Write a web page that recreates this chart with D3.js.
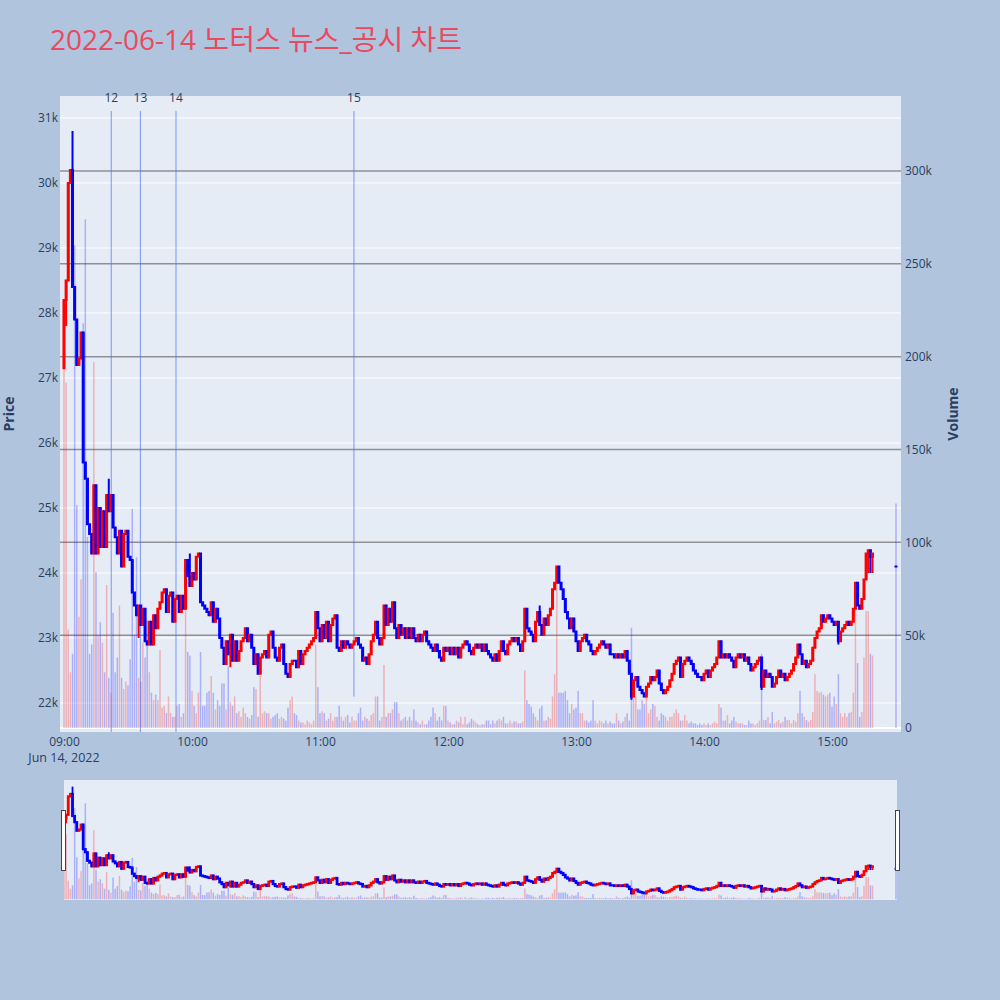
<!DOCTYPE html>
<html>
<head>
<meta charset="utf-8">
<script src="https://cdn.jsdelivr.net/npm/d3@7"></script>
<style>
  body { margin: 0; background: #b0c4de; }
  svg { display: block; font-family: "Open Sans", "Noto Sans CJK KR", sans-serif; }
</style>
</head>
<body>
<svg width="1000" height="1000"></svg>
<script>
const day = "2022-06-14";
const chartTitle = "2022-06-14 노터스 뉴스_공시 차트";

// 1-minute closes from 09:00 to 15:19, ten per row
const closes = [
  28200, 28500, 30000, 30200, 28400, 27900, 27200, 27300, 27700, 25700,
  25450, 24750, 24600, 24300, 25350, 24300, 25000, 24400, 24950, 24400,
  25200, 24950, 25200, 24700, 24550, 24300, 24650, 24100, 24600, 24650,
  24250, 24200, 23700, 23500, 23350, 23500, 23200, 23450, 22950, 22900,
  23250, 22900, 23350, 23150, 23450, 23550, 23700, 23750, 23400, 23650,
  23700, 23250, 23600, 23650, 23400, 23650, 23450, 24200, 23950, 23800,
  24000, 23900, 24250, 24300, 23550, 23500, 23450, 23400, 23350, 23550,
  23250, 23450, 23300, 23000, 22850, 22600, 22950, 22750, 23050, 22650,
  22950, 22650, 22800, 22950, 23000, 23150, 22950, 23050, 22850, 22600,
  22750, 22450, 22700, 22750, 22800, 22700, 23050, 23100, 22850, 22700,
  22650, 22850, 22900, 22600, 22450, 22400, 22600, 22650, 22650, 22550,
  22800, 22600, 22750, 22800, 22850, 22900, 22950, 23000, 23400, 23150,
  22950, 23200, 23000, 23250, 22950, 23200, 23300, 23350, 22850, 22800,
  22950, 22850, 22950, 22900, 22850, 22900, 22950, 23000, 22900, 22850,
  22650, 22700, 22600, 22750, 22950, 23050, 23250, 23000, 22900, 23000,
  23500, 23200, 23450, 23250, 23550, 23150, 23000, 23200, 23050, 23150,
  23000, 23150, 23000, 23150, 23000, 22950, 23050, 22950, 23050, 23100,
  22950, 22900, 22850, 22800, 22900, 22800, 22700, 22650, 22850, 22800,
  22850, 22750, 22850, 22750, 22850, 22700, 22850, 22900, 22950, 22900,
  22800, 22750, 22850, 22900, 22850, 22900, 22800, 22900, 22800, 22750,
  22700, 22650, 22750, 22650, 22800, 22950, 22800, 22750, 22900, 22950,
  23000, 22950, 23000, 22900, 22800, 22950, 23450, 23150, 23100, 23050,
  22950, 23250, 23400, 23200, 23050, 23300, 23200, 23350, 23450, 23750,
  23850, 24100, 23850, 23750, 23600, 23400, 23300, 23150, 23300, 23100,
  22950, 22800, 22950, 23000, 23050, 22950, 22900, 22800, 22750, 22800,
  22850, 22900, 22950, 22900, 22850, 22900, 22750, 22750, 22700, 22750,
  22700, 22750, 22700, 22800, 22650, 22450, 22100, 22350, 22400, 22250,
  22200, 22150, 22100, 22250, 22300, 22400, 22350, 22400, 22500, 22300,
  22200, 22150, 22200, 22250, 22350, 22450, 22600, 22650, 22700, 22400,
  22600, 22650, 22700, 22650, 22600, 22500, 22450, 22400, 22400, 22350,
  22450, 22500, 22400, 22500, 22550, 22600, 22700, 22950, 22700, 22750,
  22700, 22750, 22700, 22650, 22550, 22700, 22750, 22700, 22750, 22650,
  22700, 22600, 22500, 22550, 22600, 22650, 22700, 22250, 22500, 22400,
  22450, 22400, 22250, 22300, 22400, 22500, 22400, 22450, 22350, 22400,
  22450, 22500, 22600, 22700, 22900, 22750, 22600, 22650, 22550, 22600,
  22650, 22850, 23000, 23100, 23150, 23350, 23250, 23300, 23350, 23300,
  23250, 23200, 23250, 22950, 23100, 23150, 23200, 23250, 23200, 23250,
  23450, 23850, 23500, 23450, 23600, 23900, 24300, 24350, 24250, 24300
];

// volume per minute, thousands of shares
const volumesK = [
  194, 186, 53, 30, 40, 260, 120, 60, 80, 218,
  274, 103, 40, 45, 197, 84, 50, 57, 46, 30,
  77, 27, 19, 62, 30, 38, 66, 27, 21, 25,
  23, 37, 118, 50, 92, 27, 25, 46, 38, 58,
  30, 19, 15, 18, 15, 42, 11, 12, 8, 17,
  8, 6, 6, 12, 13, 6, 8, 68, 41, 39,
  20, 12, 8, 19, 41, 12, 12, 19, 20, 28,
  19, 10, 15, 12, 24, 24, 10, 33, 14, 12,
  17, 8, 9, 6, 11, 8, 6, 5, 7, 22,
  21, 6, 28, 8, 9, 8, 8, 5, 6, 7,
  8, 5, 6, 5, 4, 11, 15, 17, 8, 7,
  4, 3, 3, 2, 4, 3, 2, 4, 45, 22,
  8, 9, 8, 4, 5, 8, 4, 6, 6, 12,
  6, 4, 6, 7, 3, 6, 4, 4, 8, 11,
  4, 6, 5, 4, 7, 8, 17, 17, 4, 6,
  34, 6, 8, 8, 10, 14, 14, 8, 4, 5,
  6, 4, 6, 4, 10, 4, 3, 2, 4, 2,
  2, 4, 6, 11, 8, 4, 6, 4, 12, 12,
  4, 3, 2, 2, 4, 3, 6, 2, 6, 2,
  3, 5, 4, 3, 2, 1.5, 2, 2, 4, 4,
  2, 4, 2.5, 4, 5, 4, 6, 2.5, 2.5, 4,
  2.5, 3.5, 3.5, 2.5, 2.5, 3.5, 31, 15, 13, 11.5,
  8, 6, 4, 10.5, 12, 4, 4, 6, 5, 17,
  29, 80, 19, 19, 19, 20, 15, 8, 13, 10,
  11, 20, 8, 8, 4, 4, 3, 4, 15, 4,
  2.5, 4, 3.5, 2.5, 4, 2.5, 3.5, 2.5, 2.5, 8,
  4, 2.5, 3.5, 6, 8, 4, 54, 20, 17, 10,
  10, 15, 13, 17, 8, 10, 13, 12, 6, 4,
  8, 7, 6, 4, 6, 6, 8, 10, 8, 4,
  4, 7, 4, 2.5, 3.4, 2.5, 2.5, 1.6, 2.5, 1.6,
  2.5, 1.6, 2.5, 1.6, 2.5, 3.4, 2.5, 13, 11, 4,
  4, 7, 2.5, 4, 6, 3.4, 2.5, 2.5, 2.5, 1.6,
  1.6, 4, 2.5, 2.5, 1.6, 2.5, 4, 40, 4.3, 4.3,
  6, 2.5, 8.6, 2.5, 3.4, 4.3, 2.5, 3.4, 6, 4.3,
  4.3, 2.5, 4.3, 3.4, 8, 20, 8, 6, 4.3, 3.4,
  4.3, 8.6, 29, 20, 19, 19.5, 18, 17, 18, 19,
  11.5, 17, 13, 29, 8, 6, 8, 6, 8, 8.6,
  19, 70, 35, 6, 8.6, 38, 63, 63, 40, 39
];

const firstOpen = 27150;
const auctionTime = "15:30";
const auctionPrice = 24100;
const auctionVolumeK = 121;

// candles whose shadow reaches past the body
const wickMinute = [1, 4, 21, 35, 59, 78, 223, 266, 327, 363, 377, 378, 379];
const wickPrice = [27800, 30800, 25450, 23000, 24300, 22550, 23500, 22050, 22200, 22900, 24000, 24000, 24000];

const priceTicks = [22000, 23000, 24000, 25000, 26000, 27000, 28000, 29000, 30000, 31000];
const volumeTicks = [50000, 100000, 150000, 200000, 250000, 300000];
const volumeLabels = [0, 50000, 100000, 150000, 200000, 250000, 300000];
const hourTicks = ["09:00", "10:00", "11:00", "12:00", "13:00", "14:00", "15:00"];

const newsLabels = ["12", "13", "14", "15"];
const newsTimes = ["09:22:10", "09:35:50", "09:52:30", "11:15:55"];
const newsLow = [null, null, null, 22100];

const upColor = "#ff0000", downColor = "#0000ff", ink = "#2a3f5f";

const parse = d3.timeParse("%Y-%m-%d %H:%M:%S");
const t0 = parse(day + " 09:00:00");

const candles = closes.map((c, i) => ({ t: d3.timeMinute.offset(t0, i), close: c, vol: volumesK[i] * 1000 }));
candles.forEach((d, i) => { d.open = i ? candles[i - 1].close : firstOpen; });
candles.push({ t: parse(`${day} ${auctionTime}:00`), open: auctionPrice, close: auctionPrice, vol: auctionVolumeK * 1000 });
candles.forEach(d => {
  d.high = Math.max(d.open, d.close);
  d.low = Math.min(d.open, d.close);
  d.up = d.close > d.open;
});
wickMinute.forEach((m, k) => {
  const d = candles[m];
  d.high = Math.max(d.high, wickPrice[k]);
  d.low = Math.min(d.low, wickPrice[k]);
});

const svg = d3.select("svg");
const plot = { left: 60, right: 901, top: 96, bottom: 732 };
const slider = { left: 64, right: 897, top: 780, bottom: 900 };

const x = d3.scaleTime()
  .domain([d3.timeSecond.offset(t0, -112), d3.timeSecond.offset(t0, 23541)])
  .range([plot.left, plot.right]);
const yPrice = d3.scaleLinear().domain([21554, 31338]).range([plot.bottom, plot.top]);
const yVol = d3.scaleLinear().domain([-2150, 340400]).range([plot.bottom, plot.top]);
const ySliderPrice = d3.scaleLinear().domain(yPrice.domain()).range([slider.bottom, slider.top]);
const ySliderVol = d3.scaleLinear().domain(yVol.domain()).range([slider.bottom, slider.top]);

svg.append("rect").attr("width", 1000).attr("height", 1000).attr("fill", "#b0c4de");

const defs = svg.append("defs");
defs.append("clipPath").attr("id", "clipMain").append("rect")
  .attr("x", plot.left).attr("y", plot.top)
  .attr("width", plot.right - plot.left).attr("height", plot.bottom - plot.top);
defs.append("clipPath").attr("id", "clipSlider").append("rect")
  .attr("x", slider.left).attr("y", slider.top)
  .attr("width", slider.right - slider.left).attr("height", slider.bottom - slider.top);

// title
svg.append("text")
  .attr("x", 50).attr("y", 50)
  .attr("fill", "#e84a5f")
  .style("font-size", "28px")
  .text(chartTitle);

// main plot background and grids
svg.append("rect")
  .attr("x", plot.left).attr("y", plot.top)
  .attr("width", plot.right - plot.left).attr("height", plot.bottom - plot.top)
  .attr("fill", "#e5ecf6");

svg.append("g").selectAll("line").data(priceTicks).join("line")
  .attr("x1", plot.left).attr("x2", plot.right)
  .attr("y1", d => yPrice(d)).attr("y2", d => yPrice(d))
  .attr("stroke", "#fff").attr("stroke-width", 1);

svg.append("g").selectAll("line").data(volumeTicks).join("line")
  .attr("x1", plot.left).attr("x2", plot.right)
  .attr("y1", d => yVol(d)).attr("y2", d => yVol(d))
  .attr("stroke", "#8f8f96").attr("stroke-width", 1.5);

svg.append("line")
  .attr("x1", plot.left).attr("x2", plot.right)
  .attr("y1", yVol(0)).attr("y2", yVol(0))
  .attr("stroke", "#fff").attr("stroke-width", 2);

function drawVolume(g, yV, barW) {
  g.append("g").selectAll("rect").data(candles).join("rect")
    .attr("x", d => x(d.t) - barW / 2)
    .attr("width", barW)
    .attr("y", d => yV(d.vol))
    .attr("height", d => yV(0) - yV(d.vol))
    .attr("fill", d => d.up ? upColor : downColor)
    .attr("fill-opacity", 0.25);
}

function drawCandles(g, yP, bodyW, wickW, minBody) {
  g.append("g").selectAll("line").data(candles).join("line")
    .attr("x1", d => x(d.t)).attr("x2", d => x(d.t))
    .attr("y1", d => yP(d.high)).attr("y2", d => yP(d.low))
    .attr("stroke", d => d.up ? upColor : downColor)
    .attr("stroke-width", wickW);
  g.append("g").selectAll("rect").data(candles).join("rect")
    .attr("x", d => x(d.t) - bodyW / 2)
    .attr("width", bodyW)
    .attr("y", d => yP(Math.max(d.open, d.close)) - minBody / 2)
    .attr("height", d => Math.abs(yP(d.open) - yP(d.close)) + minBody)
    .attr("fill", d => d.up ? upColor : downColor);
}

const main = svg.append("g").attr("clip-path", "url(#clipMain)");
drawVolume(main, yVol, 1.5);

// news markers
const news = newsTimes.map((s, i) => ({ t: parse(`${day} ${s}`), label: newsLabels[i], low: newsLow[i] }));
main.append("g").selectAll("line").data(news).join("line")
  .attr("x1", d => x(d.t)).attr("x2", d => x(d.t))
  .attr("y1", 111)
  .attr("y2", d => d.low === null ? plot.bottom : yPrice(d.low))
  .attr("stroke", "#4f74ee").attr("stroke-opacity", 0.6).attr("stroke-width", 1.2);

drawCandles(main, yPrice, 3, 2, 2);

svg.append("g").selectAll("text").data(news).join("text")
  .attr("x", d => x(d.t)).attr("y", 101.5)
  .attr("text-anchor", "middle")
  .attr("fill", ink)
  .style("font-size", "12px")
  .text(d => d.label);

// axes
const leftAxis = svg.append("g")
  .attr("transform", `translate(${plot.left},0)`)
  .call(d3.axisLeft(yPrice).tickValues(priceTicks).tickFormat(d3.format("~s")).tickSize(0).tickPadding(2));
const rightAxis = svg.append("g")
  .attr("transform", `translate(${plot.right},0)`)
  .call(d3.axisRight(yVol).tickValues(volumeLabels).tickFormat(d3.format("~s")).tickSize(0).tickPadding(4));
const hourDates = hourTicks.map(h => parse(`${day} ${h}:00`));
const bottomAxis = svg.append("g")
  .attr("transform", `translate(0,${plot.bottom})`)
  .call(d3.axisBottom(x).tickValues(hourDates).tickFormat(d3.timeFormat("%H:%M")).tickSize(0).tickPadding(5.5));

[leftAxis, rightAxis, bottomAxis].forEach(a => {
  a.select(".domain").remove();
  a.selectAll("text").attr("fill", ink).style("font-size", "12px")
    .style("font-family", '"Open Sans", sans-serif');
});

svg.append("text")
  .attr("x", x(hourDates[0])).attr("y", 762)
  .attr("text-anchor", "middle").attr("fill", ink)
  .style("font-size", "12.5px")
  .text(d3.timeFormat("%b %-d, %Y")(t0));

svg.append("text")
  .attr("transform", `translate(14,${(plot.top + plot.bottom) / 2}) rotate(-90)`)
  .attr("text-anchor", "middle").attr("fill", ink)
  .style("font-size", "14px").style("font-weight", "bold")
  .text("Price");
svg.append("text")
  .attr("transform", `translate(958,${(plot.top + plot.bottom) / 2}) rotate(-90)`)
  .attr("text-anchor", "middle").attr("fill", ink)
  .style("font-size", "14px").style("font-weight", "bold")
  .text("Volume");

// range slider
svg.append("rect")
  .attr("x", slider.left).attr("y", slider.top)
  .attr("width", slider.right - slider.left).attr("height", slider.bottom - slider.top)
  .attr("fill", "#e5ecf6");
const mini = svg.append("g").attr("clip-path", "url(#clipSlider)");
drawVolume(mini, ySliderVol, 1.5);
drawCandles(mini, ySliderPrice, 2.8, 1.8, 2.2);

[slider.left - 2.5, slider.right - 1.5].forEach(hx => {
  svg.append("rect")
    .attr("x", hx).attr("y", 810.5)
    .attr("width", 4).attr("height", 60)
    .attr("fill", "#fff").attr("stroke", "#444").attr("stroke-width", 1);
});
</script>
</body>
</html>
